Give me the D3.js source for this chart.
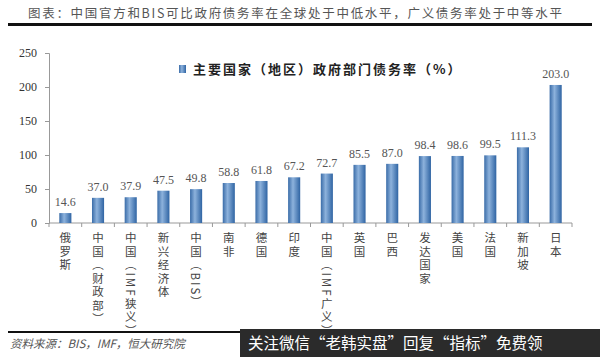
<!DOCTYPE html>
<html><head><meta charset="utf-8">
<script src="https://cdn.jsdelivr.net/npm/d3@7"></script>
<style>body{margin:0;background:#fff;}svg{display:block;}</style>
</head><body>
<script>
const categories = ["俄罗斯","中国（财政部）","中国（IMF狭义）","新兴经济体","中国（BIS）","南非","德国","印度","中国（IMF广义）","英国","巴西","发达国家","美国","法国","新加坡","日本"];
const values = [14.6,37.0,37.9,47.5,49.8,58.8,61.8,67.2,72.7,85.5,87.0,98.4,98.6,99.5,111.3,203.0];
const yTicks = [0,50,100,150,200,250];
const titleText = "图表：中国官方和BIS可比政府债务率在全球处于中低水平，广义债务率处于中等水平";
const legendText = "主要国家（地区）政府部门债务率（%）";
const sourceText = "资料来源：BIS，IMF，恒大研究院";
const bannerText = "关注微信“老韩实盘”回复“指标”免费领";

const W=600,H=357;
const svg=d3.select("body").append("svg").attr("width",W).attr("height",H);
const cjk="'Noto Sans CJK SC', sans-serif";
const serif="'Liberation Serif','DejaVu Serif',serif";

const defs=svg.append("defs");
const g=defs.append("linearGradient").attr("id","barg").attr("x1","0").attr("x2","1").attr("y1","0").attr("y2","0");
g.append("stop").attr("offset","0").attr("stop-color","#3a6ca8");
g.append("stop").attr("offset","0.4").attr("stop-color","#8db2dc");
g.append("stop").attr("offset","1").attr("stop-color","#2f64a3");

// title
svg.append("text").attr("x",28).attr("y",18).attr("font-family",cjk).attr("font-size",12.5)
  .attr("letter-spacing",1.7).attr("fill","#555").text(titleText);
svg.append("rect").attr("x",8).attr("y",23).attr("width",584).attr("height",3).attr("fill","#111");

const x=d3.scaleBand().domain(categories).range([49,572]).paddingInner(0.63).paddingOuter(0.315);
const y=d3.scaleLinear().domain([0,250]).range([223,53]);

// y axis
const ya=svg.append("g").attr("transform","translate(49,0)").call(d3.axisLeft(y).tickValues(yTicks).tickSize(4).tickPadding(8));
ya.select(".domain").attr("stroke","#999");
ya.selectAll(".tick line").attr("stroke","#999");
ya.selectAll("text").attr("font-family",serif).attr("font-size",12).attr("fill","#333");

// x axis
const xa=svg.append("g").attr("transform","translate(0,223)");
xa.append("line").attr("x1",49).attr("x2",572).attr("stroke","#999");
d3.range(categories.length+1).forEach(i=>{
  const xx=49+i*(523/categories.length);
  xa.append("line").attr("x1",xx).attr("x2",xx).attr("y1",0).attr("y2",4).attr("stroke","#999");
});

// bars
svg.append("g").selectAll("rect").data(values).join("rect")
  .attr("x",(d,i)=>x(categories[i])).attr("width",x.bandwidth())
  .attr("y",d=>y(d)).attr("height",d=>y(0)-y(d)).attr("fill","url(#barg)");
svg.append("g").selectAll("text").data(values).join("text")
  .attr("x",(d,i)=>x(categories[i])+x.bandwidth()/2).attr("y",d=>y(d)-7)
  .attr("text-anchor","middle").attr("font-family",serif).attr("font-size",12).attr("fill","#555")
  .text(d=>d.toFixed(1));

// category labels vertical
svg.append("g").selectAll("text").data(categories).join("text")
  .attr("x",d=>x(d)+x.bandwidth()/2).attr("y",232)
  .style("writing-mode","vertical-rl").style("text-orientation","mixed")
  .attr("font-family",cjk).attr("font-size",11.5).attr("letter-spacing",2).attr("fill","#444")
  .text(d=>d);

// legend
svg.append("rect").attr("x",179).attr("y",65).attr("width",7).attr("height",8).attr("fill","url(#barg)");
svg.append("text").attr("x",193).attr("y",74).attr("font-family",cjk).attr("font-size",13).attr("font-weight","bold")
  .attr("letter-spacing",2).attr("fill","#222").text(legendText);

// footer
svg.append("rect").attr("x",8).attr("y",331).attr("width",584).attr("height",2).attr("fill","#111");
svg.append("text").attr("x",10).attr("y",348).attr("font-family",cjk).attr("font-size",11.5).attr("font-style","italic")
  .attr("fill","#555").text(sourceText);
svg.append("rect").attr("x",240).attr("y",329).attr("width",360).attr("height",28).attr("fill","#2b2b2b");
svg.append("text").attr("x",248).attr("y",349).attr("font-family",cjk).attr("font-size",15.5)
  .attr("fill","#fff").text(bannerText);
</script>
</body></html>
